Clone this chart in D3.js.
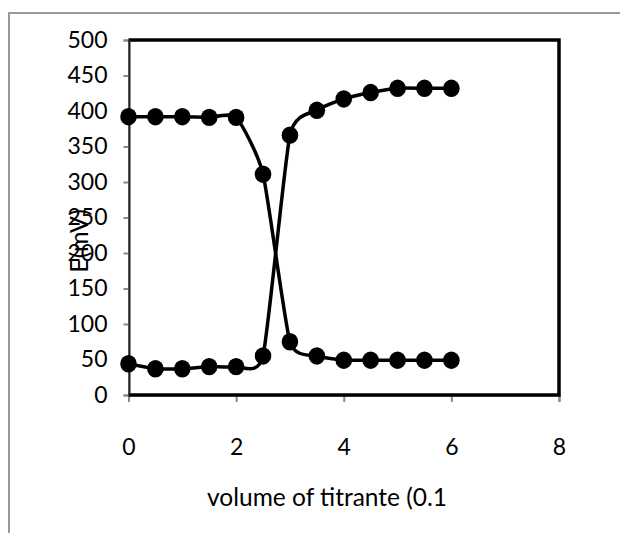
<!DOCTYPE html>
<html><head><meta charset="utf-8">
<script src="https://cdn.jsdelivr.net/npm/d3@7"></script>
<style>body{margin:0;background:#fff}svg{display:block}text{font-family:Lato,"Open Sans",sans-serif;fill:#000}</style>
</head><body>
<svg id="c" width="620" height="533"></svg>
<script>
const xVals = [0,0.5,1,1.5,2,2.5,3,3.5,4,4.5,5,5.5,6];
const seriesDown = [392,392,392,391,391,311,75,55,49,49,49,49,49];
const seriesUp = [44,37,37,40,40,55,366,401,417,426,432,432,432];
const xTicks = [0,2,4,6,8];
const yTicks = [0,50,100,150,200,250,300,350,400,450,500];
const xTitle = "volume of titrante (0.1";
const yTitle = "E(mV)";

const svg = d3.select("#c");
const L=128.5,R=559,T=40,B=395;
const x = d3.scaleLinear().domain([0,8]).range([L,R]);
const y = d3.scaleLinear().domain([0,500]).range([B,T]);

// outer frame
svg.append("rect").attr("x",9).attr("y",13).attr("width",640).attr("height",560)
  .attr("fill","none").attr("stroke","#999").attr("stroke-width",2);

// axes
const ya = svg.append("g").attr("transform",`translate(${L},0)`)
  .call(d3.axisLeft(y).tickValues(yTicks).tickSize(5).tickPadding(20));
const xa = svg.append("g").attr("transform",`translate(0,${B})`)
  .call(d3.axisBottom(x).tickValues(xTicks).tickSize(7).tickPadding(37));
[ya,xa].forEach(g=>{
  g.select(".domain").attr("stroke","#888").attr("stroke-width",2);
  g.selectAll(".tick line").attr("stroke","#888").attr("stroke-width",2);
  g.selectAll(".tick text").attr("font-size",23).attr("font-family","Lato,sans-serif");
});
ya.selectAll(".tick text").attr("dx",4);

// plot border
svg.append("path").attr("d",`M${L},${T}H${R}V${B}H${L}`).attr("fill","none")
  .attr("stroke","#000").attr("stroke-width",3.5);
svg.append("line").attr("x1",L+1).attr("x2",L+1).attr("y1",T).attr("y2",B)
  .attr("stroke","#222").attr("stroke-width",2);

const line = d3.line().curve(d3.curveCardinal.tension(0.45)).x((d,i)=>x(xVals[i])).y(d=>y(d));
[seriesDown,seriesUp].forEach(s=>{
  svg.append("path").attr("d",line(s)).attr("fill","none").attr("stroke","#000").attr("stroke-width",3.5);
  svg.append("g").selectAll("ellipse").data(s).join("ellipse")
    .attr("cx",(d,i)=>x(xVals[i])).attr("cy",d=>y(d)).attr("rx",8.3).attr("ry",8.7).attr("fill","#000");
});

svg.append("text").attr("x",327).attr("y",506).attr("text-anchor","middle")
  .attr("font-size",24.5).text(xTitle);
svg.append("text").attr("transform","translate(88,241) rotate(-90)").attr("text-anchor","middle")
  .attr("font-size",25).text(yTitle);
</script>
</body></html>
